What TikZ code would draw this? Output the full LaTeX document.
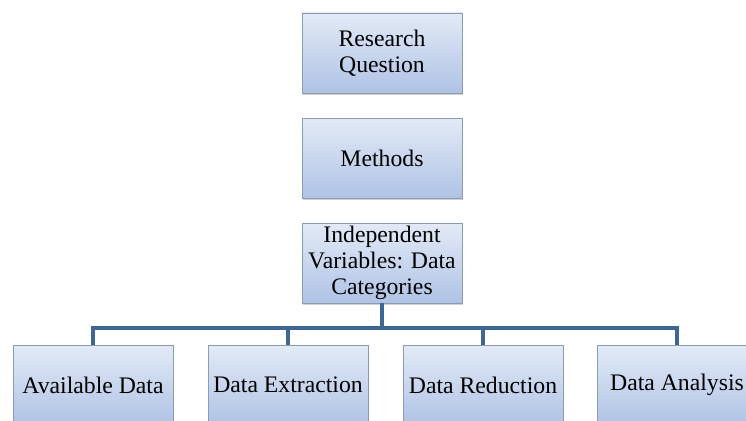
\documentclass[tikz,border=0pt]{standalone}
\usepackage{fontspec}
\setmainfont{Liberation Serif}
\usetikzlibrary{shadows}
\definecolor{boxtop}{HTML}{E2EAF6}
\definecolor{boxbot}{HTML}{AFC3E5}
\definecolor{boxedge}{HTML}{8C9BB0}
\definecolor{busblue}{HTML}{3F6693}

\begin{document}
\begin{tikzpicture}[x=0.02cm, y=-0.02cm,
  stage/.style={draw=boxedge, top color=boxtop, bottom color=boxbot,
    minimum width=3.2cm, minimum height=1.6cm, align=center, inner sep=0pt,
    font=\fontsize{13.5}{14.8}\selectfont,
    drop shadow={shadow xshift=0.4pt, shadow yshift=-1.2pt, opacity=0.35}},
  bus/.style={draw=busblue, line width=2.8pt}]
\useasboundingbox (0,0) rectangle (746,421);
\clip (0,0) rectangle (746,421);
\fill[white] (0,0) rectangle (746,421);
\node[stage] (question) at (382,53) {Research\\Question};
\node[stage] (methods) at (382,158) {Methods};
\node[stage] (indep) at (382,263) {Independent\\Variables: Data\\Categories};
\node[stage] (avail) at (93,385) {Available Data};
\node[stage] (extract) at (288,385) {Data Extraction};
\node[stage] (reduce) at (483,385) {Data Reduction};
\node[stage] (analysis) at (677,385) {Data Analysis};
\coordinate (bus) at (382,328);
\draw[bus] (indep.south) -- (bus);
\draw[bus] (avail.north) -- (avail.north |- bus) -- (analysis.north |- bus) -- (analysis.north);
\draw[bus] (extract.north) -- (extract.north |- bus);
\draw[bus] (reduce.north) -- (reduce.north |- bus);
\end{tikzpicture}
\end{document}
